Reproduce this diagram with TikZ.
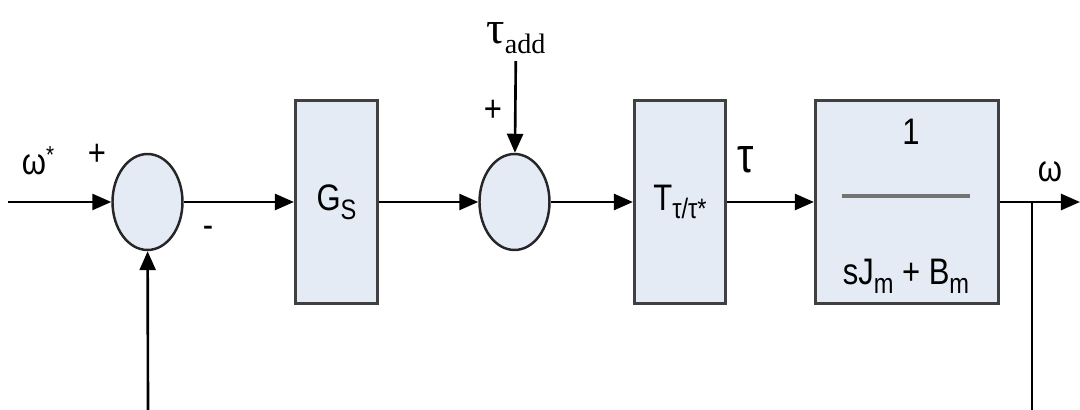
\documentclass[tikz,border=0pt]{standalone}
\usepackage{fontspec}
\setmainfont[FakeStretch=0.84]{Liberation Sans}
\newfontfamily\serifgr{Liberation Serif}
\usetikzlibrary{arrows.meta,shapes.geometric}
\definecolor{blkfill}{HTML}{E5EBF5}
\definecolor{blkline}{HTML}{404040}
\newcommand{\lowtxt}[1]{\raisebox{-0.45ex}{\footnotesize #1}}
\newcommand{\hightxt}[1]{\raisebox{0.55ex}{\scriptsize #1}}
\tikzset{
  blk/.style={draw=blkline, fill=blkfill, line width=0.9pt, inner sep=0pt},
  sumpt/.style={ellipse, draw=black!85, fill=blkfill, line width=0.7pt,
    minimum width=7.0mm, minimum height=9.6mm, inner sep=0pt},
  sig/.style={-{Triangle[length=1.9mm,width=1.6mm]}, line width=0.75pt},
  lbl/.style={inner sep=1pt},
}
\begin{document}
\begin{tikzpicture}[x=0.1mm, y=-0.1mm, font=\fontsize{10.5}{12}\selectfont]
  \useasboundingbox (0,0) rectangle (1080,410);
  % summing points
  \node[sumpt] (sum1) at (147.5,202) {};
  \node[sumpt] (sum2) at (514.5,202) {};
  % blocks
  \node[blk, minimum width=8.2mm, minimum height=20.3mm] (gs) at (336.5,202) {G\lowtxt{S}};
  \node[blk, minimum width=9.1mm, minimum height=20.3mm] (tt) at (680,202) {T\lowtxt{τ/τ*}};
  \node[blk, minimum width=18.3mm, minimum height=20.3mm] (plant) at (907,202) {};
  \node[lbl] (num) at (911,132) {1};
  \node[lbl] (den) at (906,276) {sJ\lowtxt{m} + B\lowtxt{m}};
  \coordinate (fl) at (842,196);
  \coordinate (fr) at (970,196);
  \draw[line width=1pt, black!55] (fl) -- (fr);
  % free ends
  \coordinate (in) at (8,202);
  \coordinate (out) at (1080,202);
  \coordinate (br) at (1032,202);
  \coordinate (brb) at (1032,410);
  \coordinate (fbb) at (148,410);
  \node[lbl, font=\serifgr\fontsize{13}{15}\selectfont, inner sep=2pt] (tadd) at (516,38) {τ\lowtxt{add}};
  % signals
  \draw[sig] (in) -- (sum1);
  \draw[sig] (sum1) -- (gs);
  \draw[sig] (gs) -- (sum2);
  \draw[sig] (tadd) -- (sum2);
  \draw[sig] (sum2) -- (tt);
  \draw[sig] (tt) -- (plant);
  \draw[sig] (plant) -- (out);
  \draw[line width=0.75pt] (br) -- (brb);
  \draw[sig] (fbb) -- (sum1);
  % labels
  \node[lbl] (win) at (38,161) {ω\hightxt{*}};
  \node[lbl] (p1) at (97,155) {+};
  \node[lbl] (m1) at (208,232) {-};
  \node[lbl] (p2) at (493,111) {+};
  \node[lbl, font=\fontsize{14}{16}\selectfont] (tau) at (746,160) {τ};
  \node[lbl] (wout) at (1050,172) {ω};
\end{tikzpicture}
\end{document}
